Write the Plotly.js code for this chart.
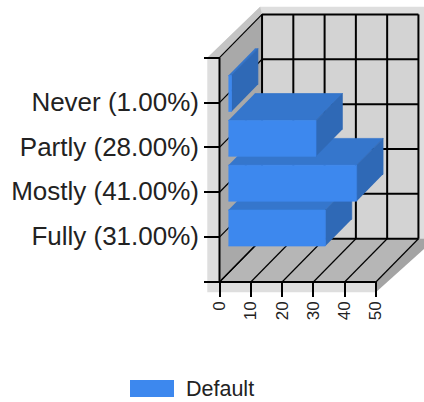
<!DOCTYPE html>
<html><head><meta charset="utf-8">
<script src="https://cdn.plot.ly/plotly-3.0.1.min.js"></script>
<style>html,body{margin:0;padding:0;background:#fff}</style></head>
<body><div id="c" style="width:424px;height:402px"></div>
<script>
const categories=['Fully (31.00%)','Mostly (41.00%)','Partly (28.00%)','Never (1.00%)'];
const values=[31,41,28,1];
const valueTicks=[0,10,20,30,40,50];
const catTicks=[0,1,2,3,4,5];
const catTickText=['',...categories,''];
const seriesName='Default';

// oblique projection offsets, in axis units, for full depth of the box
const DX=13.6, DY=0.965;
const barNear=0.21, barFar=0.83, barHalf=0.4;
const XMAX=50, YMAX=5;
const rim={x:-3.9,y:-0.23,top:0.17,right:66};

function poly(pts,fill,lw){return {type:'scatter',mode:'lines',x:pts.map(p=>p[0]),y:pts.map(p=>p[1]),
  fill:'toself',fillcolor:fill,line:{width:lw||0,color:fill},hoverinfo:'skip',showlegend:false};}
function seg(a,b,w,col){return {type:'scatter',mode:'lines',x:[a[0],b[0]],y:[a[1],b[1]],line:{width:w,color:col||'#000'},hoverinfo:'skip',showlegend:false};}
const d=(x,y,t)=>[x+DX*t,y+DY*t];
const traces=[];
// frame rims
traces.push(poly([[rim.x,YMAX],[DX-0.6,YMAX+DY+rim.top],[rim.right,YMAX+DY+rim.top],[rim.right,DY],[XMAX,0],[XMAX,rim.y],[rim.x,rim.y]],'#dedede'));
traces.push(poly([[XMAX,0],[XMAX+DX,DY],[rim.right,DY],[rim.right,DY-0.19],[XMAX,rim.y]],'#a4a4a4'));
traces.push(poly([[0,YMAX],d(0,YMAX,1),[DX-0.6,YMAX+DY+rim.top],[rim.x,YMAX]],'#c4c4c4'));
// walls
traces.push(poly([d(0,0,1),d(XMAX,0,1),d(XMAX,YMAX,1),d(0,YMAX,1)],'#d3d3d3'));
traces.push(poly([[0,0],d(0,0,1),d(0,YMAX,1),[0,YMAX]],'#a9a9a9'));
traces.push(poly([[0,0],[XMAX,0],d(XMAX,0,1),d(0,0,1)],'#b6b6b6'));
// grid
for(const v of valueTicks){traces.push(seg(d(v,0,1),d(v,YMAX,1),2));traces.push(seg([v,0],d(v,0,1),1.2));}
for(const c of catTicks){traces.push(seg(d(0,c,1),d(XMAX,c,1),2));traces.push(seg([0,c],d(0,c,1),1.2));}
traces.push(seg([0,0],[0,YMAX],2));traces.push(seg([0,0],[XMAX,0],2));
// bars: each later category is painted over the one before it
for(let i=0;i<values.length;i++){
  const v=values[i],c=i+1,b0=c-barHalf,b1=c+barHalf;
  traces.push(poly([d(0,b1,barNear),d(v,b1,barNear),d(v,b1,barFar),d(0,b1,barFar)],'#3576cc',0.7));
  traces.push(poly([d(v,b0,barNear),d(v,b1,barNear),d(v,b1,barFar),d(v,b0,barFar)],'#2f69b6',0.7));
  traces.push(poly([d(0,b0,barNear),d(v,b0,barNear),d(v,b1,barNear),d(0,b1,barNear)],'#3d88ee',0.7));
}
const layout={width:424,height:402,margin:{l:204,r:0,t:0,b:105},paper_bgcolor:'#fff',plot_bgcolor:'#fff',showlegend:false,
 font:{family:'"Liberation Sans",Arial,sans-serif',color:'#222'},
 xaxis:{range:[-4.955,65.38],tickmode:'array',tickvals:valueTicks,ticktext:valueTicks.map(String),ticks:'inside',ticklen:15,tickwidth:2,tickcolor:'#000',tickangle:-90,tickfont:{size:17,color:'#222'},showgrid:false,zeroline:false,showline:false,automargin:false},
 yaxis:{range:[-0.334,6.286],tickmode:'array',tickvals:catTicks,ticktext:catTickText,ticks:'inside',ticklen:15.5,tickwidth:2,tickcolor:'#000',ticklabelstandoff:4,ticklabelshift:-1,tickfont:{size:26,color:'#222'},showgrid:false,zeroline:false,showline:false,automargin:false},
 shapes:[{type:'rect',xref:'paper',yref:'paper',xsizemode:'pixel',ysizemode:'pixel',xanchor:0,yanchor:0,x0:-74,x1:-30,y0:-100,y1:-83,fillcolor:'#3d88ee',line:{width:0}}],
 annotations:[{xref:'paper',yref:'paper',x:0,y:0,xshift:-20,yshift:-92,xanchor:'left',yanchor:'middle',showarrow:false,text:seriesName,font:{size:21.5,color:'#222'}}]};
Plotly.newPlot('c',traces,layout,{displayModeBar:false,staticPlot:true});
</script></body></html>
